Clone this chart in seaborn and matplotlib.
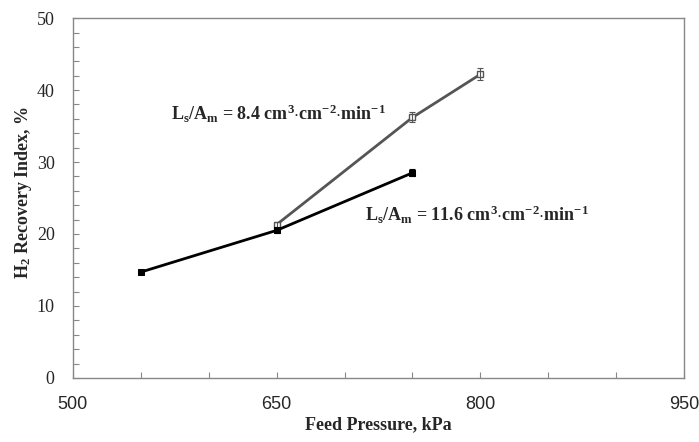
import numpy as np
import pandas as pd
import seaborn as sns
import matplotlib.pyplot as plt
from matplotlib.ticker import MultipleLocator

# data
pressure_hi = [550, 650, 750]          # L/A = 11.6
recovery_hi = [14.7, 20.5, 28.5]
err_hi = [0.2, 0.3, 0.5]

pressure_lo = [650, 750, 800]          # L/A = 8.4
recovery_lo = [21.3, 36.2, 42.2]
err_lo = [0.3, 0.7, 0.8]

x_ticks = [500, 650, 800, 950]
y_ticks = [0, 10, 20, 30, 40, 50]

label_lo = r'L$_\mathbf{s}$/A$_\mathbf{m}$ = 8.4 cm$^\mathbf{3}$$\cdot$cm$^\mathbf{-2}$$\cdot$min$^\mathbf{-1}$'
label_hi = r'L$_\mathbf{s}$/A$_\mathbf{m}$ = 11.6 cm$^\mathbf{3}$$\cdot$cm$^\mathbf{-2}$$\cdot$min$^\mathbf{-1}$'

sns.set_style("ticks")
plt.rcParams['font.family'] = ['Liberation Serif', 'DejaVu Serif']
plt.rcParams['mathtext.fontset'] = 'custom'
plt.rcParams['mathtext.rm'] = 'Liberation Serif:bold'
plt.rcParams['mathtext.bf'] = 'Liberation Serif:bold'
plt.rcParams['mathtext.it'] = 'Liberation Serif:bold'

df_hi = pd.DataFrame({'p': pressure_hi, 'r': recovery_hi})
df_lo = pd.DataFrame({'p': pressure_lo, 'r': recovery_lo})

fig = plt.figure(figsize=(6.99, 4.42), dpi=100)
ax = fig.add_axes([0.104, 0.145, 0.875, 0.814])

# gray series with open squares
sns.lineplot(data=df_lo, x='p', y='r', ax=ax, color='#555555', lw=2,
             marker='s', markersize=5, markerfacecolor='white',
             markeredgecolor='#555555', markeredgewidth=1)
ax.errorbar(pressure_lo, recovery_lo, yerr=err_lo, fmt='none',
            ecolor='#555555', elinewidth=0.8, capsize=2.5, capthick=0.8)

# black series with filled squares
sns.lineplot(data=df_hi, x='p', y='r', ax=ax, color='black', lw=2,
             marker='s', markersize=5, markerfacecolor='black',
             markeredgecolor='black')
ax.errorbar(pressure_hi, recovery_hi, yerr=err_hi, fmt='none',
            ecolor='black', elinewidth=0.8, capsize=2.5, capthick=0.8)

ax.set_xlim(500, 950)
ax.set_ylim(0, 50)
ax.set_xticks(x_ticks)
ax.set_yticks(y_ticks)
ax.xaxis.set_minor_locator(MultipleLocator(50))
ax.yaxis.set_minor_locator(MultipleLocator(2))
ax.tick_params(which='both', direction='in', length=4, color='#888888', width=0.8)
ax.tick_params(axis='y', labelsize=13, pad=13)
ax.tick_params(axis='x', labelsize=13, pad=13)
for lab in ax.get_xticklabels():
    lab.set_family('Liberation Sans')

for side in ['left', 'right', 'top', 'bottom']:
    ax.spines[side].set_visible(True)
    ax.spines[side].set_color('#888888')
    ax.spines[side].set_linewidth(1)

ax.set_xlabel('Feed Pressure, kPa', fontsize=13, fontweight='bold', labelpad=2)
ax.set_ylabel(r'H$_\mathbf{2}$ Recovery Index, %', fontsize=13, fontweight='bold')
ax.yaxis.set_label_coords(-0.064, 0.515)

ax.text(572, 36.7, label_lo, fontsize=13, fontweight='bold', va='center', ha='left')
ax.text(715, 22.7, label_hi, fontsize=13, fontweight='bold', va='center', ha='left')

fig.savefig('out.png', dpi=100)
